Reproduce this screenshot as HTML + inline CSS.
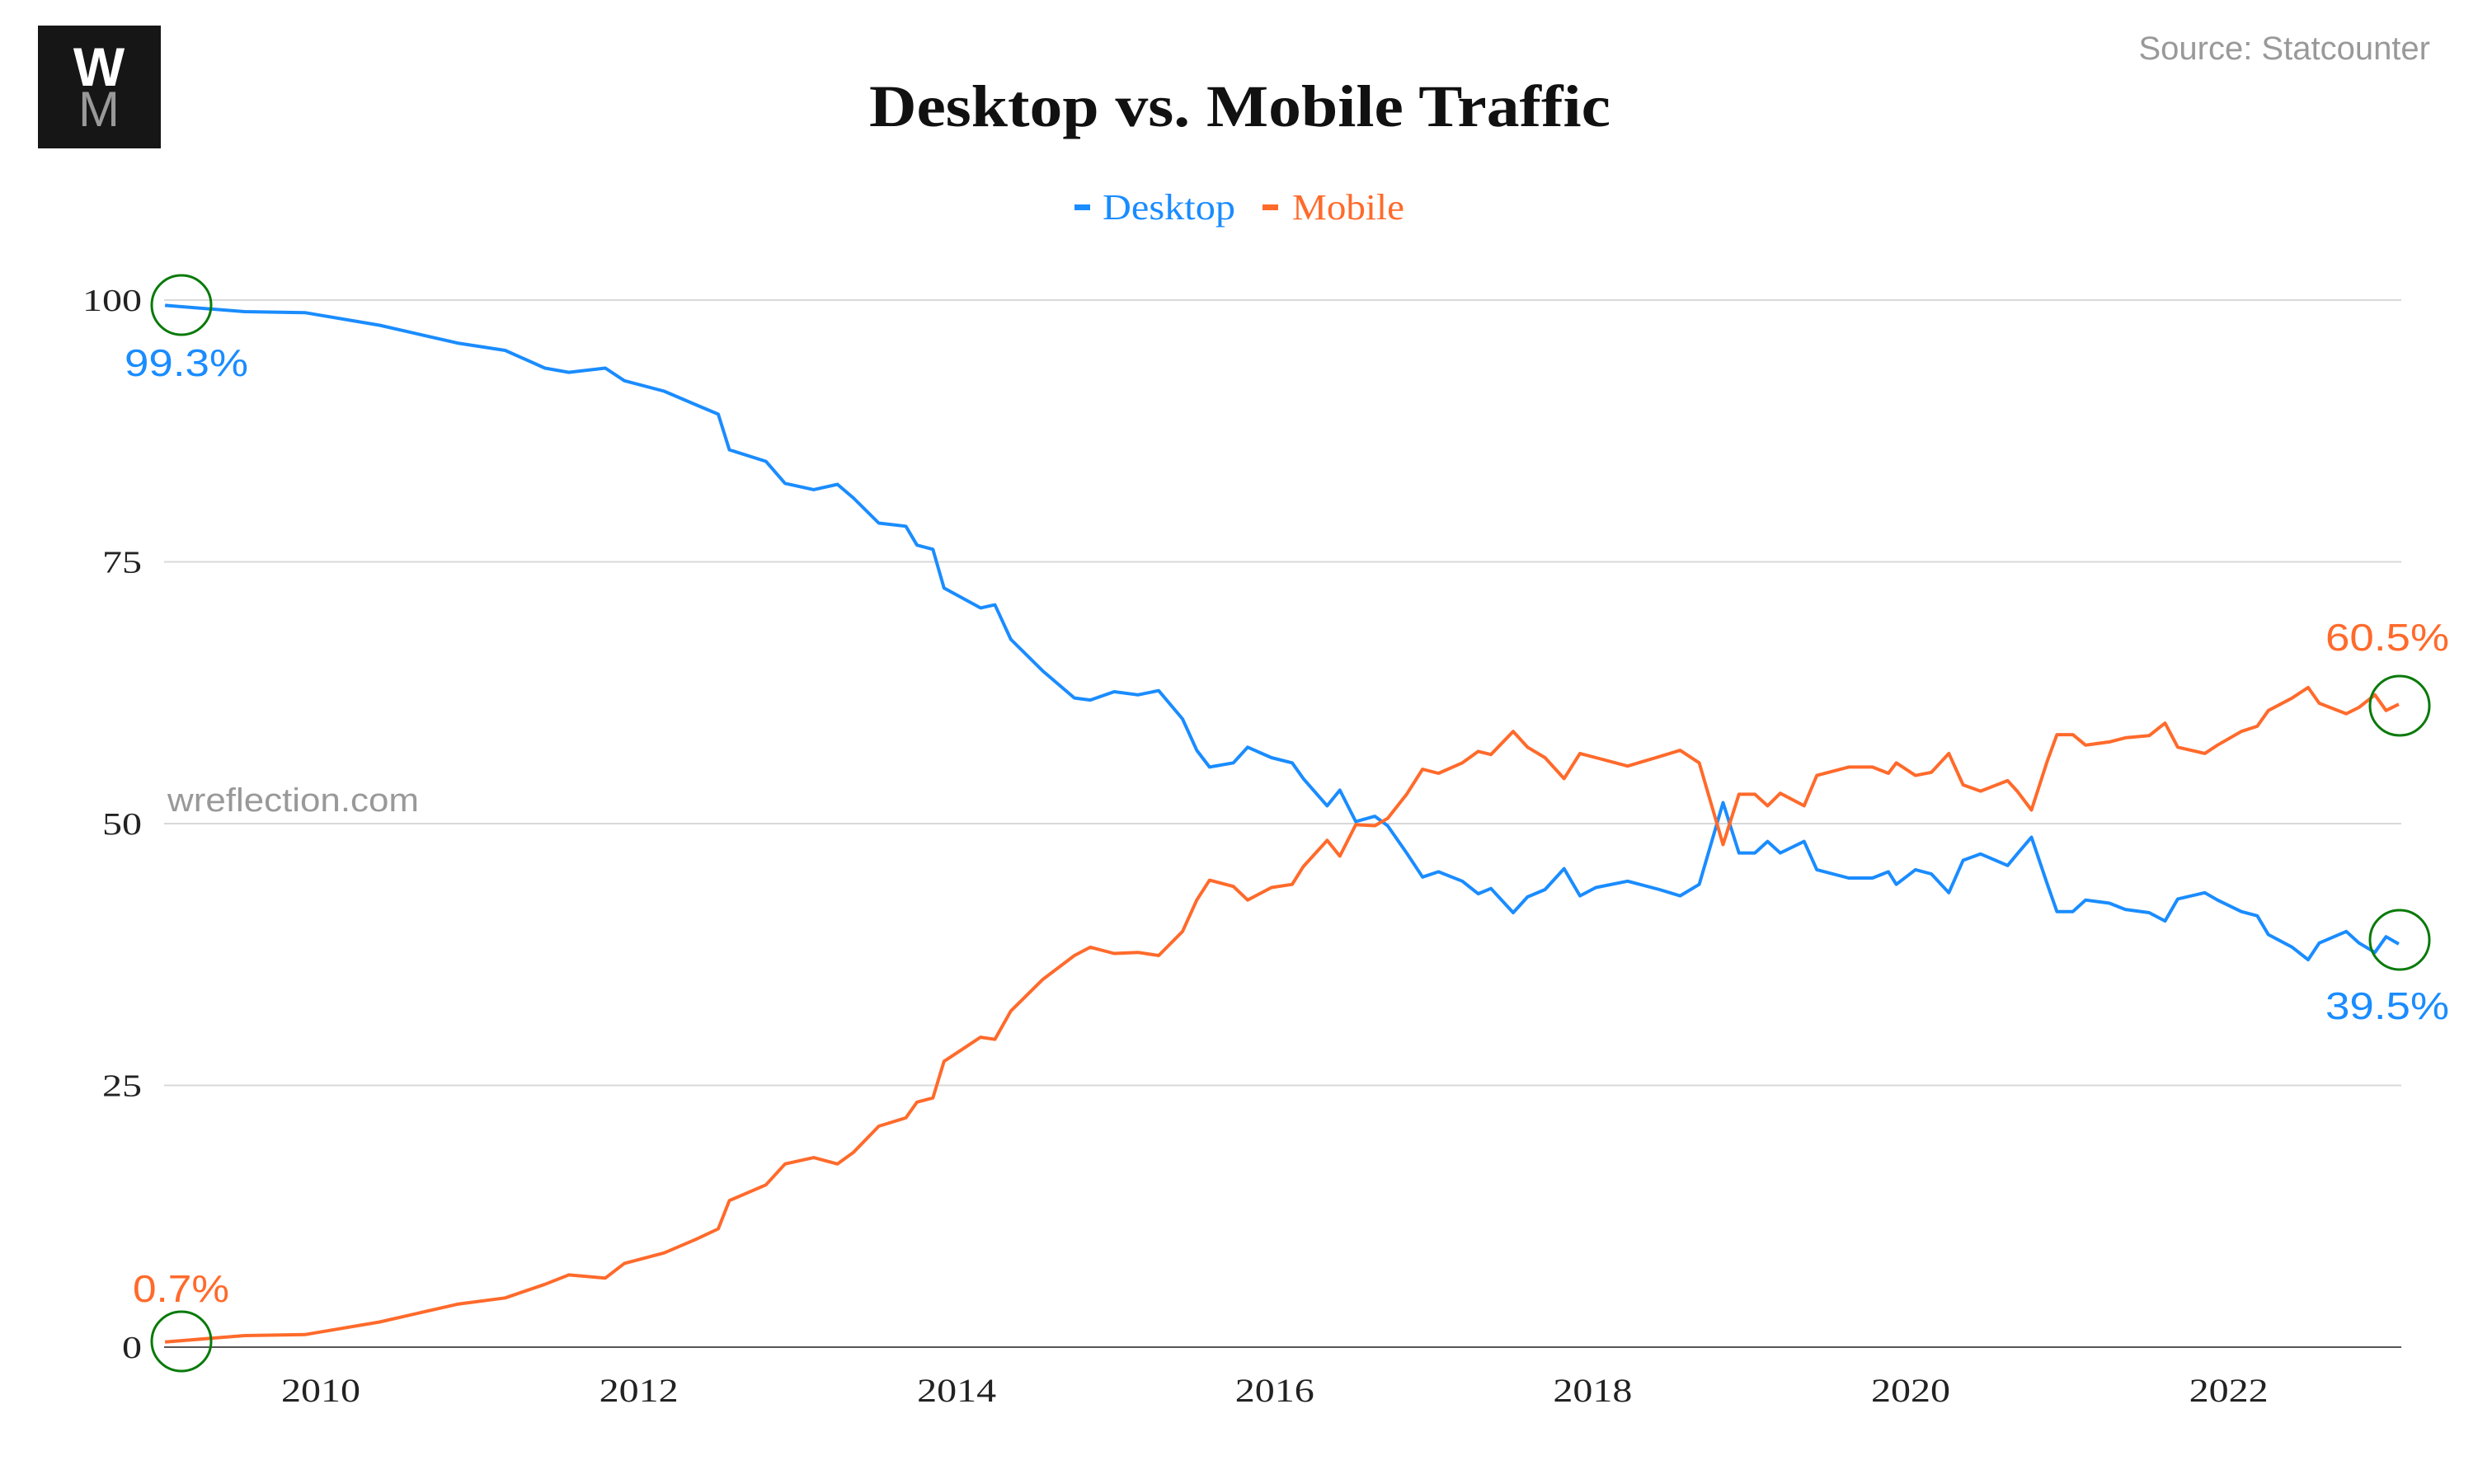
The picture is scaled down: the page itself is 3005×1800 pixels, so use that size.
<!DOCTYPE html>
<html><head><meta charset="utf-8"><style>
html,body{margin:0;padding:0;background:#fff;}
svg{display:block;}
</style></head><body>
<svg width="3005" height="1800" viewBox="0 0 3005 1800" xmlns="http://www.w3.org/2000/svg">
<g>
<rect x="46" y="31" width="149" height="149" fill="#161616"/>
<text x="120" y="104" text-anchor="middle" font-family="Liberation Sans, sans-serif" font-weight="bold" font-size="66" fill="#fff">W</text>
<text x="120" y="153" text-anchor="middle" font-family="Liberation Sans, sans-serif" font-size="60" fill="#999">M</text>
</g>
<text x="1054" y="153" textLength="899" lengthAdjust="spacingAndGlyphs" font-family="Liberation Serif, serif" font-weight="bold" font-size="72" fill="#111">Desktop vs. Mobile Traffic</text>
<text x="2947" y="72" text-anchor="end" font-family="Liberation Sans, sans-serif" font-size="40" fill="#999">Source: Statcounter</text>
<g font-family="Liberation Serif, serif" font-size="44">
<g><rect x="1303" y="248" width="19" height="7" fill="#1a8cff"/><text x="1337" y="266" textLength="161" lengthAdjust="spacingAndGlyphs" fill="#1a8cff">Desktop</text></g>
<g><rect x="1531" y="248" width="19" height="7" fill="#ff6a2b"/><text x="1567" y="266" textLength="136" lengthAdjust="spacingAndGlyphs" fill="#ff6a2b">Mobile</text></g>
</g>
<g id="grid"></g>
<g id="yticks"></g>
<g id="xticks"></g>
<text x="203" y="984" textLength="305" lengthAdjust="spacingAndGlyphs" font-family="Liberation Sans, sans-serif" font-size="40" fill="#999">wreflection.com</text>
<g id="lines"></g>
<g font-family="Liberation Sans, sans-serif" font-size="46">
<text x="151" y="456" textLength="150" lengthAdjust="spacingAndGlyphs" fill="#1a8cff">99.3%</text>
<text x="161" y="1579" textLength="117" lengthAdjust="spacingAndGlyphs" fill="#ff6a2b">0.7%</text>
<text x="2820" y="789" textLength="150" lengthAdjust="spacingAndGlyphs" fill="#ff6a2b">60.5%</text>
<text x="2820" y="1236" textLength="150" lengthAdjust="spacingAndGlyphs" fill="#1a8cff">39.5%</text>
<g fill="none" stroke="#0a7a0a" stroke-width="3">
<circle cx="220" cy="370" r="36"/>
<circle cx="220" cy="1627" r="36"/>
<circle cx="2910" cy="856" r="36"/>
<circle cx="2910" cy="1140" r="36"/>
</g>
</g>
</svg>
<script>
const dates = [2009.02,2009.52,2009.90,2010.37,2010.86,2011.16,2011.41,2011.56,2011.79,2011.91,2012.16,2012.36,2012.50,2012.57,2012.80,2012.92,2013.10,2013.25,2013.35,2013.51,2013.68,2013.75,2013.85,2013.92,2014.15,2014.24,2014.34,2014.54,2014.74,2014.84,2014.99,2015.14,2015.27,2015.42,2015.51,2015.59,2015.74,2015.83,2015.98,2016.11,2016.18,2016.33,2016.41,2016.51,2016.63,2016.71,2016.83,2016.93,2017.03,2017.18,2017.28,2017.36,2017.50,2017.59,2017.70,2017.82,2017.92,2018.02,2018.22,2018.42,2018.55,2018.67,2018.82,2018.92,2019.02,2019.10,2019.18,2019.33,2019.41,2019.61,2019.76,2019.86,2019.91,2020.03,2020.13,2020.24,2020.33,2020.44,2020.61,2020.67,2020.76,2020.86,2020.92,2021.02,2021.10,2021.25,2021.35,2021.50,2021.60,2021.68,2021.85,2021.93,2022.08,2022.18,2022.25,2022.40,2022.50,2022.57,2022.74,2022.82,2022.92,2022.99,2023.07];
const desktop = [99.5,98.9,98.8,97.6,95.9,95.2,93.5,93.1,93.5,92.3,91.3,90,89.1,85.7,84.6,82.5,81.9,82.4,81.1,78.7,78.4,76.6,76.2,72.5,70.6,70.9,67.6,64.6,62.0,61.8,62.6,62.3,62.7,60,57,55.4,55.8,57.3,56.3,55.8,54.3,51.7,53.2,50.2,50.7,49.8,47.2,44.9,45.4,44.5,43.3,43.8,41.5,43,43.7,45.7,43.1,43.9,44.5,43.7,43.1,44.2,52,47.2,47.2,48.3,47.2,48.3,45.6,44.8,44.8,45.4,44.2,45.6,45.2,43.4,46.5,47.1,46,47.1,48.7,44.2,41.6,41.6,42.7,42.4,41.8,41.5,40.7,42.8,43.4,42.7,41.6,41.2,39.4,38.2,37,38.6,39.7,38.6,37.7,39.2,38.5];
const mobile = [0.5,1.1,1.2,2.4,4.1,4.7,6,6.9,6.6,8,9,10.3,11.3,14,15.5,17.5,18.1,17.5,18.6,21.1,21.9,23.4,23.8,27.3,29.6,29.4,32.1,35.1,37.4,38.2,37.6,37.7,37.4,39.7,42.7,44.6,44,42.7,43.9,44.2,45.9,48.4,46.9,49.9,49.8,50.5,52.8,55.2,54.8,55.8,56.9,56.6,58.8,57.3,56.3,54.3,56.7,56.3,55.5,56.4,57,55.8,48,52.8,52.8,51.7,52.9,51.7,54.6,55.4,55.4,54.8,55.8,54.6,54.9,56.7,53.7,53.1,54.1,53.1,51.3,56,58.5,58.5,57.5,57.8,58.2,58.4,59.6,57.3,56.7,57.5,58.8,59.3,60.8,62,63,61.5,60.5,61.1,62.3,60.8,61.4];
const yTicks = [0,25,50,75,100];
const xTicks = [2010,2012,2014,2016,2018,2020,2022];

const NS='http://www.w3.org/2000/svg';
const xs = y => 389 + (y-2010)*192.8;
const ys = v => 1634 - v*12.7;
function mk(tag, attrs){const e=document.createElementNS(NS,tag);for(const k in attrs)e.setAttribute(k,attrs[k]);return e;}
const grid=document.getElementById('grid'), yt=document.getElementById('yticks'), xt=document.getElementById('xticks'), lines=document.getElementById('lines');
yTicks.forEach(v=>{
  const l=mk('line',{x1:199,x2:2912,y1:ys(v),y2:ys(v),stroke:v===0?'#555':'#d8d8d8','stroke-width':2});
  
  
  grid.appendChild(l);
  const s=String(v);
  const t=mk('text',{x:172,y:ys(v)+13,'text-anchor':'end','font-family':'Liberation Serif, serif','font-size':38,fill:'#222',textLength:s.length*24,lengthAdjust:'spacingAndGlyphs'});
  
  
  t.textContent=s; yt.appendChild(t);
});
xTicks.forEach(y=>{
  const t=mk('text',{x:xs(y),y:1700,'text-anchor':'middle','font-family':'Liberation Serif, serif','font-size':40,fill:'#222',textLength:96,lengthAdjust:'spacingAndGlyphs'});
  
  
  t.textContent=y; xt.appendChild(t);
});
function line(vals,color,name){
  const d=vals.map((v,i)=>(i?'L':'M')+xs(dates[i]).toFixed(1)+','+ys(v).toFixed(1)).join('');
  const p=mk('path',{d:d,fill:'none',stroke:color,'stroke-width':4,'stroke-linejoin':'round'});
  
  
  lines.appendChild(p);
}
line(desktop,'#1a8cff','desktop-line');
line(mobile,'#ff6a2b','mobile-line');
</script>
</body></html>
